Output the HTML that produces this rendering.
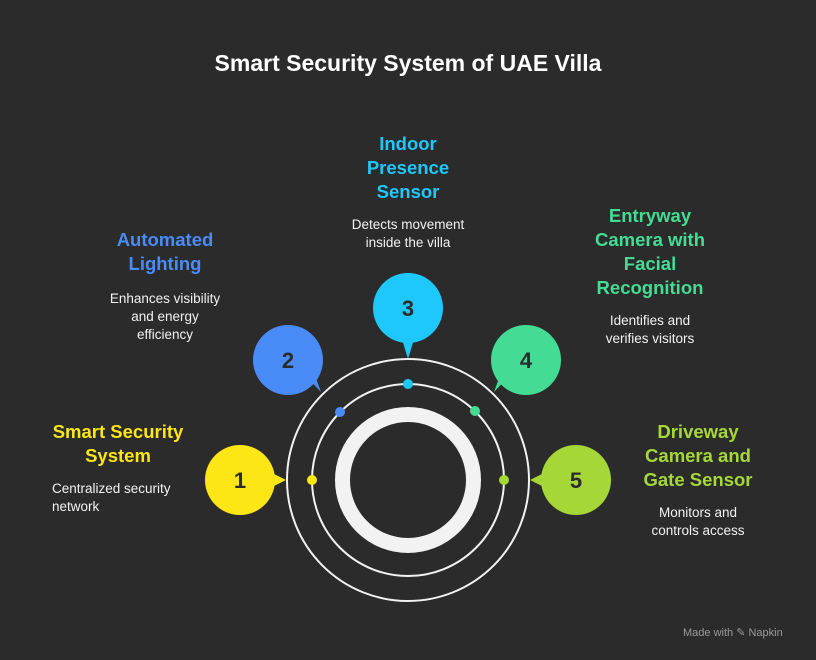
<!DOCTYPE html>
<html><head><style>
body{margin:0;width:816px;height:660px;background:#2b2b2b;font-family:"Liberation Sans",sans-serif;position:relative;overflow:hidden}
.t{position:absolute;font-weight:bold;font-size:18.5px;line-height:24px;text-align:center}
.d{position:absolute;color:#f2f2f2;font-size:13.5px;line-height:18px;text-align:center}
</style></head><body>
<div class="t" style="left:0;width:816px;top:51px;color:#fff;font-size:23px">Smart Security System of UAE Villa</div>
<svg width="816" height="660" style="position:absolute;left:0;top:0">
<g fill="none" stroke="#f2f2f2">
<circle cx="408" cy="480" r="121" stroke-width="2"/>
<circle cx="408" cy="480" r="96" stroke-width="2"/>
<circle cx="408" cy="480" r="65.5" stroke-width="15"/>
</g>
<circle cx="312" cy="480" r="5" fill="#fde615"/>
<circle cx="340" cy="412" r="5" fill="#4a8cf7"/>
<circle cx="408" cy="384" r="5" fill="#1ec8fc"/>
<circle cx="475" cy="411" r="5" fill="#44dc94"/>
<circle cx="504" cy="480" r="5" fill="#a5d836"/>
<g font-weight="bold" font-size="22" text-anchor="middle" fill="#2b2b2b">
<polygon points="270,472 286,480 270,488" fill="#fde615"/>
<circle cx="240" cy="480" r="35" fill="#fde615"/><text x="240" y="488">1</text>
<polygon points="305,375 321,392 313,370" fill="#4a8cf7"/>
<circle cx="288" cy="360" r="35" fill="#4a8cf7"/><text x="288" y="368">2</text>
<polygon points="401,336 408,359 415,336" fill="#1ec8fc"/>
<circle cx="408" cy="308" r="35" fill="#1ec8fc"/><text x="408" y="316">3</text>
<polygon points="510,375 494,392 502,370" fill="#44dc94"/>
<circle cx="526" cy="360" r="35" fill="#44dc94"/><text x="526" y="368">4</text>
<polygon points="546,472 530,480 546,488" fill="#a5d836"/>
<circle cx="576" cy="480" r="35" fill="#a5d836"/><text x="576" y="488">5</text>
</g>
</svg>
<div class="t" style="left:30px;width:176px;top:420px;color:#fde615">Smart Security<br>System</div>
<div class="d" style="width:150px;top:480px;text-align:left;left:52px">Centralized security<br>network</div>
<div class="t" style="left:80px;width:170px;top:228px;color:#4a8cf7">Automated<br>Lighting</div>
<div class="d" style="left:90px;width:150px;top:290px">Enhances visibility<br>and energy<br>efficiency</div>
<div class="t" style="left:320px;width:176px;top:132px;color:#1ec8fc">Indoor<br>Presence<br>Sensor</div>
<div class="d" style="left:320px;width:176px;top:216px">Detects movement<br>inside the villa</div>
<div class="t" style="left:560px;width:180px;top:204px;color:#44dc94">Entryway<br>Camera with<br>Facial<br>Recognition</div>
<div class="d" style="left:570px;width:160px;top:312px">Identifies and<br>verifies visitors</div>
<div class="t" style="left:610px;width:176px;top:420px;color:#a5d836">Driveway<br>Camera and<br>Gate Sensor</div>
<div class="d" style="left:610px;width:176px;top:504px">Monitors and<br>controls access</div>
<div style="position:absolute;left:683px;top:626px;font-size:11px;color:#9a9a9a">Made with ✎ Napkin</div>
</body></html>
